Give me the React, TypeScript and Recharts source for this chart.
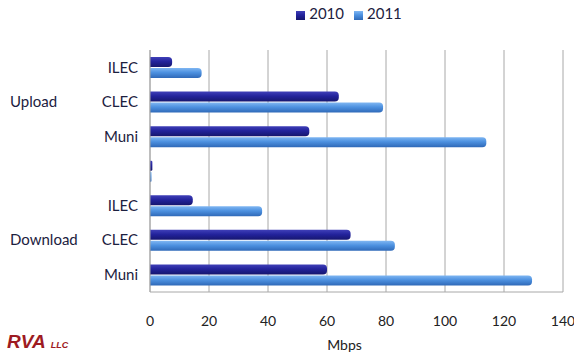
import React from "react";
import { BarChart, Bar, XAxis, YAxis, CartesianGrid, Legend } from "recharts";

// rows top to bottom, the blank row separates the two groups
const ROW_LABELS = ["ILEC", "CLEC", "Muni", "", "ILEC", "CLEC", "Muni"];
const GROUP_LABELS = ["", "Upload", "", "", "", "Download", ""];
const MBPS_2010 = [7.5, 64, 54, 0.8, 14.5, 68, 60];
const MBPS_2011 = [17.5, 79, 114, 0.5, 38, 83, 129.5];
const X_TICKS = [0, 20, 40, 60, 80, 100, 120, 140];

const data = ROW_LABELS.map((label, i) => ({
  key: String(i),
  "2010": MBPS_2010[i],
  "2011": MBPS_2011[i],
}));

const FONT = "Lato, 'Open Sans', sans-serif";
const TEXT = "#1c2140";

const RowTick = (props: any) => {
  const { x, y, payload } = props;
  const i = Number(payload.value);
  return (
    <g>
      <text x={x - 4} y={y} dy="0.35em" textAnchor="end" fontSize={15} fill={TEXT} fontFamily={FONT}>
        {ROW_LABELS[i]}
      </text>
      {GROUP_LABELS[i] && (
        <text x={10} y={y} dy="0.35em" textAnchor="start" fontSize={15} fill={TEXT} fontFamily={FONT}>
          {GROUP_LABELS[i]}
        </text>
      )}
    </g>
  );
};

export default function App() {
  return (
    <div style={{ position: "absolute", left: 0, top: 0, width: 574, height: 354, background: "#fff", overflow: "hidden" }}>
      <BarChart
        width={574}
        height={354}
        data={data}
        layout="vertical"
        margin={{ top: 32, right: 11, left: 0, bottom: 0 }}
        barCategoryGap={7}
        barGap={1}
      >
        <defs>
          <linearGradient id="g2010" x1="0" y1="0" x2="0" y2="1">
            <stop offset="0%" stopColor="#4040b8" />
            <stop offset="45%" stopColor="#23239c" />
            <stop offset="100%" stopColor="#16166e" />
          </linearGradient>
          <linearGradient id="g2011" x1="0" y1="0" x2="0" y2="1">
            <stop offset="0%" stopColor="#7fb6f2" />
            <stop offset="45%" stopColor="#4d91e0" />
            <stop offset="100%" stopColor="#2f69b8" />
          </linearGradient>
        </defs>
        <CartesianGrid horizontal={false} stroke="#a8a8a8" />
        <XAxis
          type="number"
          domain={[0, 140]}
          ticks={X_TICKS}
          height={62}
          axisLine={{ stroke: "#a8a8a8" }}
          tickLine={false}
          tickMargin={18}
          tick={{ fontSize: 14, fill: "#222", fontFamily: FONT }}
          label={{ value: "Mbps", position: "insideBottom", offset: 4, dx: -12, fontSize: 14, fill: "#222", fontFamily: FONT }}
        />
        <YAxis
          type="category"
          dataKey="key"
          width={150}
          axisLine={{ stroke: "#a8a8a8" }}
          tickLine={false}
          tick={<RowTick />}
          interval={0}
        />
        <Legend
          verticalAlign="top"
          iconType="square"
          iconSize={9}
          wrapperStyle={{ top: 4, left: 294, width: 120, fontSize: 15, fontFamily: FONT }}
          formatter={(v: string) => <span style={{ color: TEXT }}>{v}</span>}
          payload={[
            { value: "2010", type: "square", color: "#23239c", id: "2010" },
            { value: "2011", type: "square", color: "#4d91e0", id: "2011" },
          ]}
        />
        <Bar dataKey="2010" fill="url(#g2010)" radius={[0, 4, 4, 0]} isAnimationActive={false} />
        <Bar dataKey="2011" fill="url(#g2011)" radius={[0, 4, 4, 0]} isAnimationActive={false} />
      </BarChart>
      <div
        style={{
          position: "absolute",
          left: 7,
          top: 332,
          color: "#9e1b22",
          fontFamily: "'Liberation Sans', Arial, sans-serif",
          fontWeight: "bold",
          fontStyle: "italic",
          fontSize: 19,
          lineHeight: "20px",
          whiteSpace: "nowrap",
        }}
      >
        RVA<span style={{ fontSize: 9, marginLeft: 5 }}>LLC</span>
      </div>
    </div>
  );
}
